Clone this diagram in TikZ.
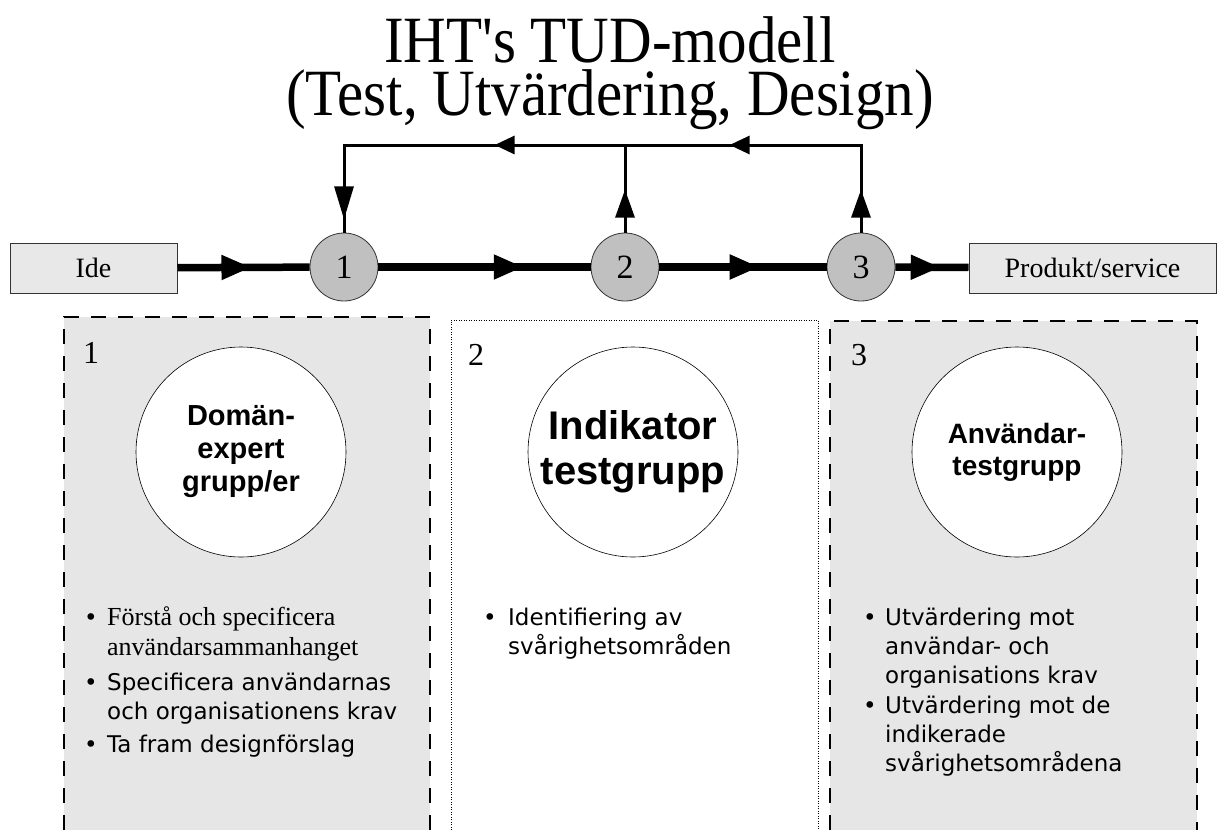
\documentclass[tikz,border=0pt]{standalone}
\usepackage{fontspec}
\setmainfont{Liberation Serif}
\newfontfamily\arialfont{Liberation Sans}
\newfontfamily\verdanafont{DejaVu Sans}
\usetikzlibrary{arrows.meta, positioning, calc, decorations.markings}
\definecolor{panelgray}{RGB}{230,230,230}
\definecolor{boxgray}{RGB}{232,232,232}
\definecolor{stepgray}{RGB}{192,192,192}

\begin{document}
\begin{tikzpicture}[x=1pt, y=-1pt,
        titleline/.style={font=\fontsize{59}{62}\selectfont, yscale=1.12, inner sep=0pt, anchor=base},
        flowbox/.style={rectangle, draw=black!80, fill=boxgray, line width=1pt, minimum height=50pt, inner sep=0pt, font=\fontsize{28}{30}\selectfont},
        stepcircle/.style={circle, draw=black!80, fill=stepgray, line width=0.8pt, minimum size=68pt, inner sep=0pt, font=\fontsize{34}{36}\selectfont},
        groupcircle/.style={circle, draw=black, fill=white, line width=0.6pt, minimum size=210pt, inner sep=0pt, align=center},
        panelnum/.style={anchor=base west, inner sep=0pt, font=\fontsize{32}{34}\selectfont},
        bulletdot/.style={anchor=base, inner sep=0pt, font=\verdanafont\fontsize{23}{29}\selectfont},
        bullettext/.style={anchor=base west, inner sep=0pt, align=left, font=\verdanafont\fontsize{23}{29}\selectfont},
        paneldash/.style={line width=1.2pt, dash pattern=on 15pt off 12pt},
        paneldot/.style={line width=0.8pt, dash pattern=on 1pt off 1.5pt},
        mainline/.style={line width=7.5pt},
        fbline/.style={line width=3pt},
        midarrow/.style={postaction={decorate}, decoration={markings, mark=at position #1 with {\arrow{Triangle[length=30pt, width=23pt]}}}},
        fbtip/.tip={Triangle[length=28pt, width=19pt]},
        toptip/.tip={Triangle[length=20pt, width=18pt]}
    ]
        \useasboundingbox (0,0) rectangle (1218,830);

        % title
        \node[titleline] (title1) at (610,62) {IHT\textquotesingle s TUD-modell};
        \node[titleline] (title2) at (610,115) {(Test, Utvärdering, Design)};

        % panels
        \fill[panelgray] (64,317) rectangle (430,830);
        \draw[paneldash] (64,830) -- (64,317) -- (430,317) -- (430,830);
        \draw[paneldot] (451,830) -- (451,320) -- (818,320) -- (818,830);
        \fill[panelgray] (830,321) rectangle (1197,830);
        \draw[paneldash] (830,830) -- (830,321) -- (1197,321) -- (1197,830);

        % flow
        \node[flowbox, minimum width=167pt] (ide) at (93.5,268) {Ide};
        \node[stepcircle] (c1) at (344,267) {1};
        \node[stepcircle] (c2) at (625,267) {2};
        \node[stepcircle] (c3) at (861,267) {3};
        \node[flowbox, minimum width=247pt] (prod) at (1092.5,268) {Produkt/service};

        \draw[mainline, midarrow=0.56] (ide) -- (c1);
        \draw[mainline, midarrow=0.685] (c1) -- (c2);
        \draw[mainline, midarrow=0.6] (c2) -- (c3);
        \draw[mainline, midarrow=0.62] (c3) -- (prod);

        % feedback loop
        \coordinate (fbr) at (861,145);
        \coordinate (fbm) at (625,145);
        \coordinate (fbl) at (344,145);
        \draw[fbline, postaction={decorate}, decoration={markings,
                mark=at position 43pt with {\arrow{fbtip}},
                mark=at position 219pt with {\arrow{toptip}},
                mark=at position 454pt with {\arrow{toptip}},
                mark=at position 679pt with {\arrow{Triangle[length=33pt, width=19pt]}}}]
            (c3.north) -- (fbr) -- (fbl) -- (c1.north);
        \draw[fbline, postaction={decorate}, decoration={markings,
                mark=at position 43pt with {\arrow{fbtip}}}]
            (c2.north) -- (fbm);

        % panel 1 (bullet texts: base = last line)
        \node[panelnum] (n1) at (83,363) {1};
        \node[groupcircle, font=\arialfont\bfseries\fontsize{29}{33}\selectfont] (g1) at (241,452) {Domän-\\expert\\grupp/er};
        \node[bulletdot] (d1a) at (91,625) {•};
        \node[bullettext, font=\fontsize{26}{30}\selectfont] (b1a) at (107,655) {Förstå och specificera\\användarsammanhanget};
        \node[bulletdot] (d1b) at (91,690) {•};
        \node[bullettext] (b1b) at (107,719) {Specificera användarnas\\och organisationens krav};
        \node[bulletdot] (d1c) at (91,752) {•};
        \node[bullettext] (b1c) at (107,752) {Ta fram designförslag};

        % panel 2
        \node[panelnum] (n2) at (468,365) {2};
        \node[groupcircle, font=\arialfont\bfseries\fontsize{40}{45}\selectfont] (g2) at (633,452) {Indikator\\testgrupp};
        \node[bulletdot] (d2a) at (490,625) {•};
        \node[bullettext] (b2a) at (508,654) {Identifiering av\\svårighetsområden};

        % panel 3
        \node[panelnum] (n3) at (851,365) {3};
        \node[groupcircle, font=\arialfont\bfseries\fontsize{28}{32}\selectfont] (g3) at (1017,452) {Användar-\\testgrupp};
        \node[bulletdot] (d3a) at (870,625) {•};
        \node[bullettext] (b3a) at (885,683) {Utvärdering mot\\användar- och\\organisations krav};
        \node[bulletdot] (d3b) at (870,713) {•};
        \node[bullettext] (b3b) at (885,771) {Utvärdering mot de\\indikerade\\svårighetsområdena};
    \end{tikzpicture}
\end{document}
